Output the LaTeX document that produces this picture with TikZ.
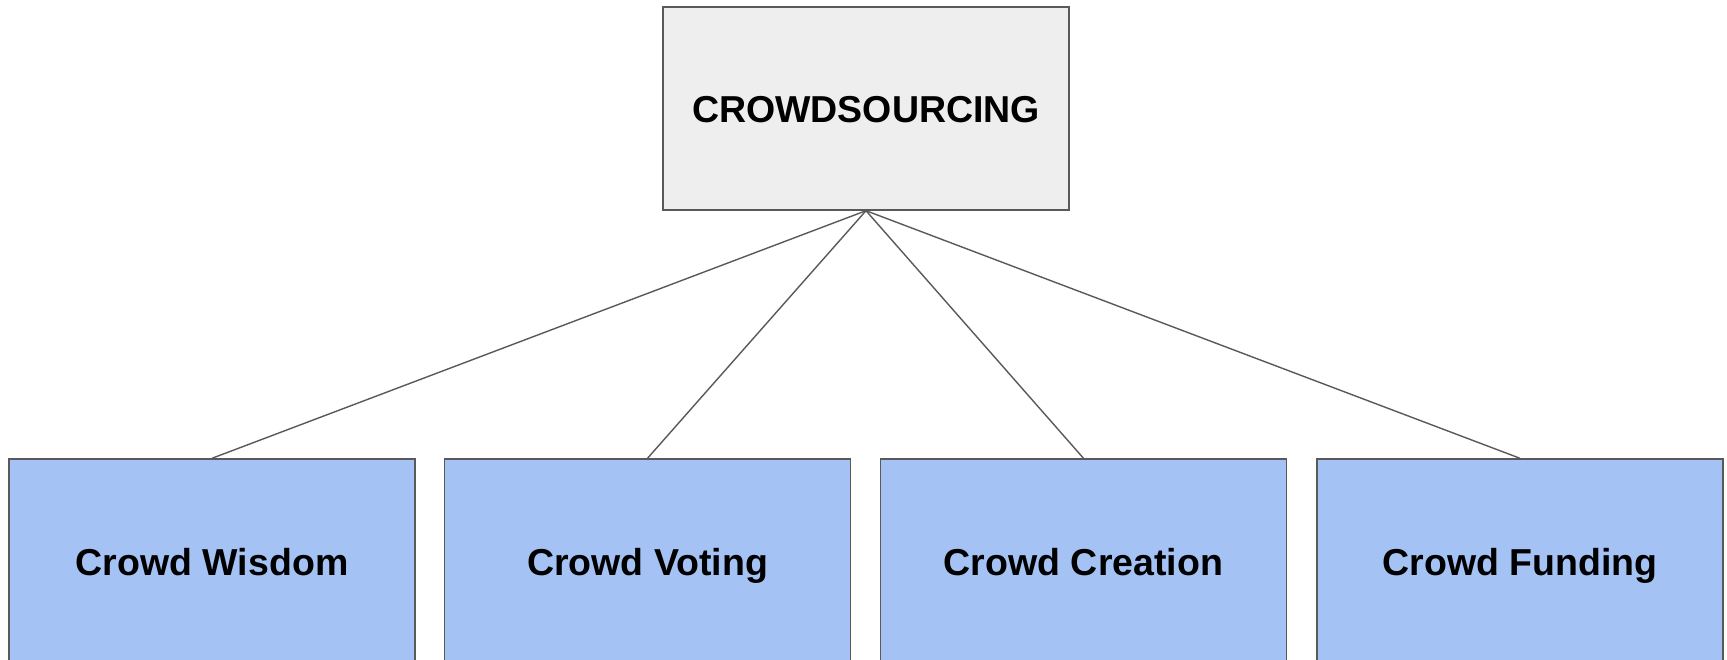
\documentclass[tikz,border=0pt]{standalone}
\usepackage{fontspec}
\setmainfont{Liberation Sans}
\definecolor{rootfill}{HTML}{EEEEEE}
\definecolor{leaffill}{HTML}{A4C2F4}
\definecolor{edge}{HTML}{595959}
\begin{document}
\begin{tikzpicture}[x=1pt,y=-1pt,
  box/.style={draw=edge, line width=1.4pt, rectangle, inner sep=0pt,
    minimum width=406pt, text height=27.3pt, text depth=0pt,
    font=\bfseries\fontsize{37.5}{40}\selectfont},
  rootbox/.style={box, fill=rootfill, minimum height=203pt},
  leafbox/.style={box, fill=leaffill, minimum height=206pt},
  link/.style={draw=edge, line width=1.4pt}]
\clip (0,0) rectangle (1727,660);
\node[rootbox] (root) at (866,108.5) {CROWDSOURCING};
\node[leafbox] (wisdom)   at (212,562)    {Crowd Wisdom};
\node[leafbox] (voting)   at (647.5,562)  {Crowd Voting};
\node[leafbox] (creation) at (1083.5,562) {Crowd Creation};
\node[leafbox] (funding)  at (1520,562)   {Crowd Funding};
\foreach \n in {wisdom,voting,creation,funding}
  \draw[link] (root.south) -- (\n.north);
\end{tikzpicture}
\end{document}
